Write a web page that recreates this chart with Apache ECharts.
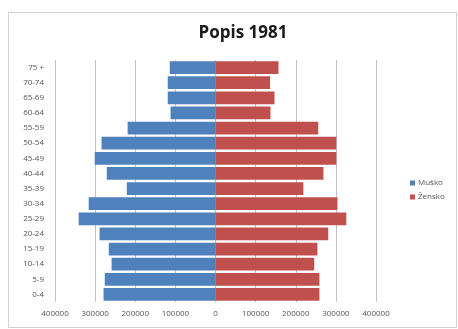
<!DOCTYPE html>
<html><head><meta charset="utf-8">
<script src="https://cdn.jsdelivr.net/npm/echarts@6/dist/echarts.min.js"></script>
<style>html,body{margin:0;padding:0;background:#fff}#c{width:458px;height:329px}</style>
</head><body><div id="c"></div>
<script>
const categories = ['0-4','5-9','10-14','15-19','20-24','25-29','30-34','35-39','40-44','45-49','50-54','55-59','60-64','65-69','70-74','75 +'];
const male = [279000,276000,259000,266000,289000,341000,316000,221000,271000,301000,284000,219000,112000,119000,119000,114000];
const female = [259000,259000,246000,254000,281000,326000,304000,219000,269000,301000,301000,256000,137000,147000,136000,157000];
const seriesNames = ['Muško','Žensko'];
const titleText = 'Popis 1981';

const chart = echarts.init(document.getElementById('c'));
chart.setOption({
  animation:false,
  graphic:[{type:'rect',shape:{x:8.5,y:12.5,width:448,height:315},style:{fill:'none',stroke:'#d0d0d0',lineWidth:1}}],
  title:{text:titleText,left:238,top:20,textAlign:'center',textStyle:{fontFamily:'Open Sans',fontWeight:'bold',fontSize:17,color:'#1a1a1a'}},
  legend:{orient:'vertical',left:405,top:174,itemWidth:5,itemHeight:5,itemGap:6,icon:'rect',
    textStyle:{fontSize:8,color:'#555',fontFamily:'Open Sans',padding:[0,0,0,-2]},data:seriesNames},
  grid:{left:55,right:82,top:60,bottom:27,containLabel:false},
  xAxis:{type:'value',min:-400000,max:400000,interval:100000,
    axisLine:{show:false},axisTick:{show:false},
    splitLine:{lineStyle:{color:'#c0c0c0'}},
    axisLabel:{fontSize:8,color:'#555',fontFamily:'Open Sans',margin:8,formatter:v=>String(Math.abs(v))}},
  yAxis:{type:'category',data:categories,axisLine:{show:false},axisTick:{show:false},
    axisLabel:{fontSize:8,color:'#555',fontFamily:'Open Sans',margin:11}},
  series:[
    {name:seriesNames[0],type:'bar',data:male.map(v=>-v),barCategoryGap:'16%',barGap:'-100%',itemStyle:{color:'#4F81BD'}},
    {name:seriesNames[1],type:'bar',data:female,barCategoryGap:'16%',itemStyle:{color:'#C0504D'}}
  ]
});
</script></body></html>
